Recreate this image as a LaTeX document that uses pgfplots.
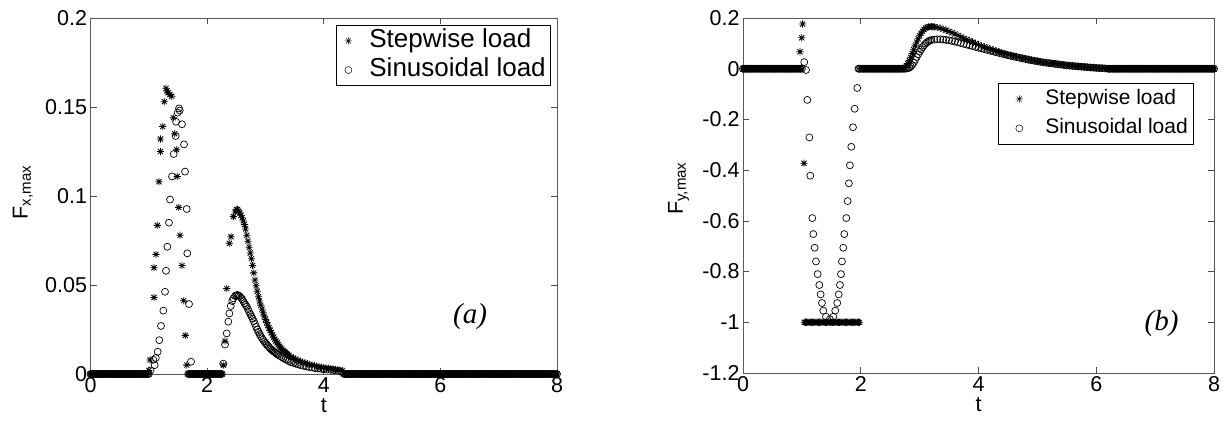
\documentclass[border=0pt]{standalone}
\usepackage{pgfplots}
\pgfplotsset{compat=1.18}
\usepackage{pgfplotstable}
\usepackage{fontspec}
\setmainfont{Liberation Sans}
\newfontfamily\timesfont{Liberation Serif}
\pgfdeclareplotmark{mstar}{%
 \pgfpathmoveto{\pgfqpoint{-\pgfplotmarksize}{0pt}}\pgfpathlineto{\pgfqpoint{\pgfplotmarksize}{0pt}}%
 \pgfpathmoveto{\pgfqpoint{0pt}{-\pgfplotmarksize}}\pgfpathlineto{\pgfqpoint{0pt}{\pgfplotmarksize}}%
 \pgfpathmoveto{\pgfqpoint{-.707\pgfplotmarksize}{-.707\pgfplotmarksize}}\pgfpathlineto{\pgfqpoint{.707\pgfplotmarksize}{.707\pgfplotmarksize}}%
 \pgfpathmoveto{\pgfqpoint{-.707\pgfplotmarksize}{.707\pgfplotmarksize}}\pgfpathlineto{\pgfqpoint{.707\pgfplotmarksize}{-.707\pgfplotmarksize}}%
 \pgfusepathqstroke}
% zero segments
\pgfplotstableread[row sep=\\]{t y\\0 0\\0.025 0\\0.05 0\\0.075 0\\0.1 0\\0.125 0\\0.15 0\\0.175 0\\0.2 0\\0.225 0\\0.25 0\\0.275 0\\0.3 0\\0.325 0\\0.35 0\\0.375 0\\0.4 0\\0.425 0\\0.45 0\\0.475 0\\0.5 0\\0.525 0\\0.55 0\\0.575 0\\0.6 0\\0.625 0\\0.65 0\\0.675 0\\0.7 0\\0.725 0\\0.75 0\\0.775 0\\0.8 0\\0.825 0\\0.85 0\\0.875 0\\0.9 0\\0.925 0\\0.95 0\\0.975 0\\}\ZA
\pgfplotstableread[row sep=\\]{t y\\1.675 0\\1.7 0\\1.725 0\\1.75 0\\1.775 0\\1.8 0\\1.825 0\\1.85 0\\1.875 0\\1.9 0\\1.925 0\\1.95 0\\1.975 0\\2.0 0\\2.025 0\\2.05 0\\2.075 0\\2.1 0\\2.125 0\\2.15 0\\2.175 0\\2.2 0\\2.225 0\\2.25 0\\}\ZLmid
\pgfplotstableread[row sep=\\]{t y\\4.35 0\\4.375 0\\4.4 0\\4.425 0\\4.45 0\\4.475 0\\4.5 0\\4.525 0\\4.55 0\\4.575 0\\4.6 0\\4.625 0\\4.65 0\\4.675 0\\4.7 0\\4.725 0\\4.75 0\\4.775 0\\4.8 0\\4.825 0\\4.85 0\\4.875 0\\4.9 0\\4.925 0\\4.95 0\\4.975 0\\5.0 0\\5.025 0\\5.05 0\\5.075 0\\5.1 0\\5.125 0\\5.15 0\\5.175 0\\5.2 0\\5.225 0\\5.25 0\\5.275 0\\5.3 0\\5.325 0\\5.35 0\\5.375 0\\5.4 0\\5.425 0\\5.45 0\\5.475 0\\5.5 0\\5.525 0\\5.55 0\\5.575 0\\5.6 0\\5.625 0\\5.65 0\\5.675 0\\5.7 0\\5.725 0\\5.75 0\\5.775 0\\5.8 0\\5.825 0\\5.85 0\\5.875 0\\5.9 0\\5.925 0\\5.95 0\\5.975 0\\6.0 0\\6.025 0\\6.05 0\\6.075 0\\6.1 0\\6.125 0\\6.15 0\\6.175 0\\}\ZTa
\pgfplotstableread[row sep=\\]{t y\\6.2 0\\6.225 0\\6.25 0\\6.275 0\\6.3 0\\6.325 0\\6.35 0\\6.375 0\\6.4 0\\6.425 0\\6.45 0\\6.475 0\\6.5 0\\6.525 0\\6.55 0\\6.575 0\\6.6 0\\6.625 0\\6.65 0\\6.675 0\\6.7 0\\6.725 0\\6.75 0\\6.775 0\\6.8 0\\6.825 0\\6.85 0\\6.875 0\\6.9 0\\6.925 0\\6.95 0\\6.975 0\\7.0 0\\7.025 0\\7.05 0\\7.075 0\\7.1 0\\7.125 0\\7.15 0\\7.175 0\\7.2 0\\7.225 0\\7.25 0\\7.275 0\\7.3 0\\7.325 0\\7.35 0\\7.375 0\\7.4 0\\7.425 0\\7.45 0\\7.475 0\\7.5 0\\7.525 0\\7.55 0\\7.575 0\\7.6 0\\7.625 0\\7.65 0\\7.675 0\\7.7 0\\7.725 0\\7.75 0\\7.775 0\\7.8 0\\7.825 0\\7.85 0\\7.875 0\\7.9 0\\7.925 0\\7.95 0\\7.975 0\\8.0 0\\}\ZTb
\pgfplotstableread[row sep=\\]{t y\\2.0 0\\2.025 0\\2.05 0\\2.075 0\\2.1 0\\2.125 0\\2.15 0\\2.175 0\\2.2 0\\2.225 0\\2.25 0\\2.275 0\\2.3 0\\2.325 0\\2.35 0\\2.375 0\\2.4 0\\2.425 0\\2.45 0\\2.475 0\\2.5 0\\2.525 0\\2.55 0\\2.575 0\\2.6 0\\2.625 0\\2.65 0\\2.675 0\\2.7 0\\}\ZRmid
\pgfplotstableread[row sep=\\]{t y\\1.04 -1\\1.06 -1\\1.08 -1\\1.1 -1\\1.12 -1\\1.14 -1\\1.16 -1\\1.18 -1\\1.2 -1\\1.22 -1\\1.24 -1\\1.26 -1\\1.28 -1\\1.3 -1\\1.32 -1\\1.34 -1\\1.36 -1\\1.38 -1\\1.4 -1\\1.42 -1\\1.44 -1\\1.46 -1\\1.48 -1\\1.5 -1\\1.52 -1\\1.54 -1\\1.56 -1\\1.58 -1\\1.6 -1\\1.62 -1\\1.64 -1\\1.66 -1\\1.68 -1\\1.7 -1\\1.72 -1\\1.74 -1\\1.76 -1\\1.78 -1\\1.8 -1\\1.82 -1\\1.84 -1\\1.86 -1\\1.88 -1\\1.9 -1\\1.92 -1\\1.94 -1\\1.96 -1\\1.98 -1\\}\ZRneg
% peak curves
\pgfplotstableread[row sep=\\]{t y\\2.278 0.005\\2.307 0.0185\\2.336 0.048\\2.381 0.0734\\2.41 0.0771\\2.45 0.0884\\2.48 0.091\\2.50 0.0925\\2.52 0.0924\\2.54 0.0915\\2.56 0.0905\\2.58 0.0892\\2.60 0.0878\\2.62 0.0860\\2.64 0.0840\\2.66 0.0815\\2.68 0.0780\\2.70 0.0746\\2.72 0.0712\\2.74 0.0680\\2.76 0.0648\\2.78 0.0610\\2.80 0.0568\\2.82 0.0528\\2.84 0.0496\\2.86 0.0465\\2.88 0.0434\\2.90 0.0410\\2.92 0.0387\\2.94 0.0365\\2.96 0.0344\\2.98 0.0325\\3.00 0.0307\\3.02 0.0290\\3.04 0.0274\\3.06 0.0259\\3.08 0.0245\\3.10 0.0232\\3.12 0.0219\\3.14 0.0207\\3.16 0.0196\\3.18 0.0185\\3.20 0.0175\\3.22 0.0165\\3.24 0.0156\\3.26 0.0148\\3.28 0.0140\\3.30 0.0133\\3.32 0.0127\\3.34 0.0121\\3.36 0.0115\\3.38 0.0110\\3.40 0.0105\\3.44 0.0097\\3.48 0.0090\\3.52 0.0083\\3.56 0.0077\\3.60 0.0071\\3.64 0.0066\\3.68 0.0062\\3.72 0.0058\\3.76 0.0054\\3.80 0.0050\\3.84 0.0047\\3.88 0.0044\\3.92 0.0041\\3.96 0.0038\\4.00 0.0036\\4.04 0.0034\\4.08 0.0032\\4.12 0.0030\\4.16 0.0028\\4.20 0.0026\\4.24 0.0024\\4.28 0.0022\\4.32 0.0020\\}\FxStepB
\pgfplotstableread[row sep=\\]{t y\\2.278 0.0058\\2.307 0.0166\\2.336 0.0228\\2.364 0.0294\\2.381 0.034\\2.405 0.0382\\2.43 0.041\\2.45 0.0425\\2.48 0.0438\\2.50 0.0442\\2.52 0.0444\\2.54 0.0441\\2.56 0.0436\\2.58 0.0429\\2.60 0.0421\\2.62 0.0410\\2.64 0.0398\\2.66 0.0388\\2.68 0.0378\\2.70 0.0364\\2.72 0.0350\\2.74 0.0337\\2.76 0.0324\\2.78 0.0311\\2.80 0.0297\\2.82 0.0282\\2.84 0.0265\\2.86 0.0250\\2.88 0.0237\\2.90 0.0224\\2.92 0.0212\\2.94 0.0201\\2.96 0.0192\\2.98 0.0183\\3.00 0.0174\\3.02 0.0166\\3.04 0.0158\\3.06 0.0151\\3.08 0.0144\\3.10 0.0138\\3.12 0.0132\\3.14 0.0127\\3.16 0.0122\\3.18 0.0117\\3.20 0.0112\\3.22 0.0107\\3.25 0.0101\\3.28 0.0095\\3.31 0.0089\\3.34 0.0084\\3.37 0.0079\\3.40 0.0072\\3.44 0.0066\\3.48 0.0062\\3.52 0.0058\\3.56 0.0054\\3.60 0.0050\\3.65 0.0046\\3.70 0.0042\\3.75 0.0039\\3.80 0.0036\\3.85 0.0033\\3.90 0.0031\\3.95 0.0029\\4.00 0.0027\\4.06 0.0025\\4.12 0.0023\\4.18 0.0021\\4.24 0.0018\\4.30 0.0012\\}\FxSinB
\pgfplotstableread[row sep=\\]{t y\\2.725 0.002\\2.75 0.005\\2.775 0.011\\2.80 0.02\\2.825 0.032\\2.85 0.045\\2.875 0.06\\2.90 0.075\\2.925 0.09\\2.95 0.105\\2.975 0.118\\3.00 0.13\\3.025 0.14\\3.05 0.148\\3.075 0.155\\3.10 0.16\\3.125 0.163\\3.15 0.165\\3.175 0.166\\3.20 0.166\\3.225 0.1655\\3.25 0.165\\3.3 0.163\\3.35 0.16\\3.4 0.156\\3.45 0.152\\3.5 0.147\\3.55 0.142\\3.6 0.137\\3.65 0.131\\3.7 0.126\\3.75 0.12\\3.8 0.115\\3.85 0.11\\3.9 0.105\\3.95 0.1\\4.0 0.095\\4.05 0.09\\4.1 0.086\\4.15 0.082\\4.2 0.078\\4.25 0.074\\4.3 0.07\\4.35 0.066\\4.4 0.0625\\4.45 0.059\\4.5 0.056\\4.55 0.053\\4.6 0.05\\4.65 0.047\\4.7 0.0445\\4.75 0.042\\4.8 0.0395\\4.85 0.037\\4.9 0.0345\\4.95 0.032\\5.0 0.03\\5.05 0.028\\5.1 0.026\\5.15 0.024\\5.2 0.0225\\5.25 0.021\\5.3 0.0195\\5.35 0.018\\5.4 0.0165\\5.45 0.015\\5.5 0.0135\\5.55 0.012\\5.6 0.011\\5.65 0.01\\5.7 0.009\\5.75 0.008\\5.8 0.007\\5.85 0.006\\5.9 0.005\\5.95 0.004\\6.0 0.0035\\6.05 0.003\\6.1 0.0025\\6.15 0.002\\}\FyStepB
\pgfplotstableread[row sep=\\]{t y\\2.725 0\\2.75 0\\2.775 0.001\\2.8 0.002\\2.825 0.004\\2.85 0.009\\2.875 0.015\\2.9 0.024\\2.925 0.035\\2.95 0.046\\2.975 0.057\\3.0 0.067\\3.025 0.076\\3.05 0.085\\3.075 0.092\\3.1 0.099\\3.125 0.104\\3.15 0.108\\3.175 0.111\\3.2 0.113\\3.25 0.115\\3.3 0.116\\3.35 0.1158\\3.4 0.115\\3.45 0.1135\\3.5 0.112\\3.55 0.1095\\3.6 0.107\\3.65 0.104\\3.7 0.101\\3.75 0.098\\3.8 0.095\\3.85 0.092\\3.9 0.089\\3.95 0.086\\4.0 0.083\\4.05 0.08\\4.1 0.077\\4.15 0.074\\4.2 0.071\\4.25 0.068\\4.3 0.065\\4.35 0.062\\4.4 0.059\\4.45 0.056\\4.5 0.053\\4.55 0.0505\\4.6 0.048\\4.65 0.0455\\4.7 0.043\\4.75 0.0405\\4.8 0.038\\4.85 0.0355\\4.9 0.033\\4.95 0.031\\5.0 0.029\\5.05 0.027\\5.1 0.025\\5.15 0.0235\\5.2 0.022\\5.25 0.0205\\5.3 0.019\\5.35 0.0175\\5.4 0.016\\5.45 0.0145\\5.5 0.013\\5.55 0.012\\5.6 0.011\\5.65 0.01\\5.7 0.009\\5.75 0.008\\5.8 0.007\\5.85 0.006\\5.9 0.005\\5.95 0.004\\6.0 0.003\\6.05 0.0025\\6.1 0.002\\6.15 0.001\\}\FySinB
\newcommand\fnt{\fontsize{21.5}{25}\selectfont}
\pgfplotsset{
  mfig/.style={
    scale only axis, xmin=0, xmax=8, xtick={0,2,...,8},
    axis line style={black!65, line width=0.6pt},
    tick style={black!70, line width=0.6pt}, major tick length=6pt,
    tick align=inside,
    /pgf/number format/assume math mode=true,
    tick label style={font=\fnt},
    label style={font=\fnt},
    xlabel={t},
    xlabel style={at={(axis description cs:0.5,-0.088)}, anchor=center},
    legend style={draw=black, line width=0.5pt, inner xsep=2pt, inner ysep=1pt},
    legend cell align=left,
    clip=false,
  },
  sstep/.style={only marks, mark=mstar, mark size=3.6pt, black, line width=0.8pt, mark options={solid}},
  ssin/.style={only marks, mark=o, mark size=3.5pt, black, line width=0.7pt, mark options={solid, fill=none}},
}
\begin{document}
\begin{tikzpicture}
\useasboundingbox (0,0) rectangle (1223pt,423pt);
% ---------------- (a) ----------------
\begin{axis}[mfig, at={(90.5pt,49pt)}, anchor=south west,
  width=466.5pt, height=356pt,
  ymin=0, ymax=0.2, ytick={0,0.05,...,0.2},
  yticklabels={0,0.05,0.1,0.15,0.2},
  ylabel={F\textsubscript{x,max}},
  ylabel style={at={(axis description cs:-0.145,0.51)}, anchor=center},
  legend style={at={(1,1)}, anchor=north east, xshift=-6pt, yshift=-7pt,
    font=\fontsize{26}{29}\selectfont,
    nodes={text height=19.5pt, text depth=5.7pt, inner xsep=3pt, inner ysep=2pt}},
  legend image code/.code={\path[draw=none, fill=none] (0pt,-5pt) rectangle (28pt,5pt); \draw[#1, line width=0.5pt] plot coordinates {(10pt,0pt)};},
]
\addlegendimage{sstep}\addlegendentry{Stepwise load}
\addlegendimage{ssin}\addlegendentry{Sinusoidal load}
% stepwise
\addplot[sstep, forget plot] table {\ZA};
\addplot[sstep, forget plot] coordinates {(1.0,0.002)(1.02,0.0079)(1.089,0.043)(1.089,0.0597)(1.123,0.0672)(1.146,0.0835)(1.175,0.108)(1.2,0.125)(1.2,0.132)(1.238,0.139)(1.266,0.153)(1.295,0.1605)(1.31,0.159)(1.33,0.158)(1.36,0.157)(1.393,0.156)(1.42,0.144)(1.444,0.135)(1.478,0.126)(1.489,0.111)(1.512,0.0936)(1.535,0.0779)(1.569,0.0609)(1.598,0.0412)(1.626,0.0217)(1.65,0.005)};
\addplot[sstep, forget plot] table {\ZLmid};
\addplot[sstep, forget plot] table {\FxStepB};
\addplot[sstep, forget plot] table {\ZTa};
\addplot[sstep, forget plot] table {\ZTb};
% sinusoidal
\addplot[ssin, forget plot] table {\ZA};
\addplot[ssin, forget plot] coordinates {(1.0,0)(1.03,0.002)(1.077,0.008)(1.1,0.005)(1.12,0.009)(1.152,0.0125)(1.18,0.019)(1.209,0.027)(1.249,0.0356)(1.278,0.0462)(1.295,0.058)(1.318,0.0715)(1.346,0.085)(1.364,0.098)(1.398,0.111)(1.427,0.1236)(1.461,0.1337)(1.467,0.1417)(1.495,0.1468)(1.518,0.1492)(1.53,0.148)(1.569,0.1403)(1.604,0.129)(1.621,0.1137)(1.65,0.0927)(1.66,0.0678)(1.69,0.0393)(1.724,0.0069)};
\addplot[ssin, forget plot] table {\ZLmid};
\addplot[ssin, forget plot] table {\FxSinB};
\addplot[ssin, forget plot] table {\ZTa};
\addplot[ssin, forget plot] table {\ZTb};
\node[font=\timesfont\itshape\fontsize{29}{33}\selectfont] at (axis cs:6.51,0.0322) {(a)};
\end{axis}
% ---------------- (b) ----------------
\begin{axis}[mfig, at={(743pt,50pt)}, anchor=south west,
  width=471pt, height=355pt,
  ymin=-1.2, ymax=0.2, ytick={-1.2,-1,...,0.2},
  yticklabels={-1.2,-1,-0.8,-0.6,-0.4,-0.2,0,0.2},
  ylabel={F\textsubscript{y,max}},
  ylabel style={at={(axis description cs:-0.137,0.52)}, anchor=center},
  legend style={at={(1,1)}, anchor=north east, xshift=-21pt, yshift=-65pt,
    font=\fontsize{21}{26}\selectfont,
    nodes={text height=15.8pt, text depth=4.6pt, inner xsep=3pt, inner ysep=4.5pt}},
  legend image code/.code={\path[draw=none, fill=none] (0pt,-5pt) rectangle (42pt,5pt); \draw[#1, line width=0.5pt] plot coordinates {(19pt,0pt)};},
]
\addlegendimage{sstep}\addlegendentry{Stepwise load}
\addlegendimage{ssin}\addlegendentry{Sinusoidal load}
% stepwise
\addplot[sstep, forget plot] table {\ZA};
\addplot[sstep, forget plot] coordinates {(0.968,0.067)(0.997,0.122)(1.013,0.176)(1.036,-0.373)};
\addplot[sstep, forget plot] table {\ZRneg};
\addplot[sstep, forget plot] table {\ZRmid};
\addplot[sstep, forget plot] table {\FyStepB};
\addplot[sstep, forget plot] table {\ZTb};
% sinusoidal
\addplot[ssin, forget plot] table {\ZA};
\addplot[ssin, forget plot] coordinates {(1.0,0)(1.04,0.026)(1.07,-0.005)(1.093,-0.123)(1.127,-0.271)(1.143,-0.422)(1.177,-0.589)(1.194,-0.652)(1.217,-0.706)(1.239,-0.76)(1.268,-0.81)(1.296,-0.853)(1.319,-0.89)(1.341,-0.924)(1.364,-0.954)(1.409,-0.978)(1.477,-0.988)(1.533,-0.978)(1.567,-0.954)(1.601,-0.924)(1.625,-0.89)(1.647,-0.853)(1.664,-0.81)(1.681,-0.76)(1.703,-0.706)(1.72,-0.652)(1.754,-0.589)(1.777,-0.522)(1.799,-0.452)(1.816,-0.381)(1.839,-0.308)(1.868,-0.231)(1.896,-0.158)(1.94,-0.076)(1.96,0)(1.975,0)};
\addplot[ssin, forget plot] table {\ZRmid};
\addplot[ssin, forget plot] table {\FySinB};
\addplot[ssin, forget plot] table {\ZTb};
\node[font=\timesfont\itshape\fontsize{29}{33}\selectfont] at (axis cs:7.11,-1.003) {(b)};
\end{axis}
\end{tikzpicture}
\end{document}
